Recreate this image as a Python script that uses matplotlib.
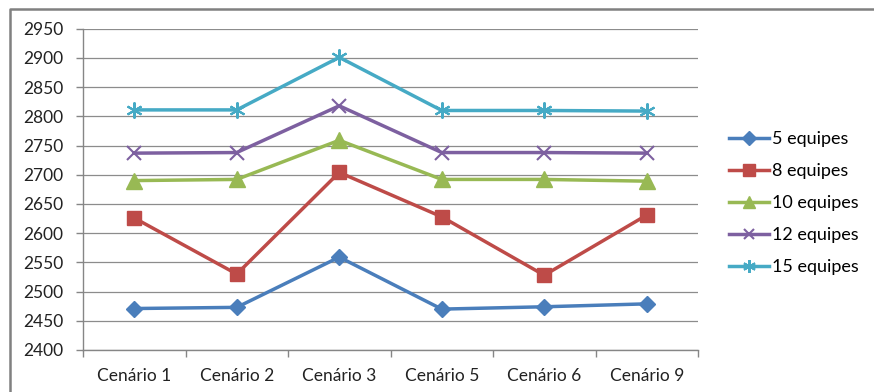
import matplotlib
matplotlib.use("Agg")
import matplotlib.pyplot as plt
from matplotlib.lines import Line2D
import numpy as np

categories = ["Cenário 1", "Cenário 2", "Cenário 3", "Cenário 5", "Cenário 6", "Cenário 9"]
series_names = ["5 equipes", "8 equipes", "10 equipes", "12 equipes", "15 equipes"]
equipes_5 = [2471, 2473, 2559, 2470, 2474, 2479]
equipes_8 = [2626, 2530, 2704, 2628, 2528, 2631]
equipes_10 = [2690, 2692, 2759, 2692, 2692, 2689]
equipes_12 = [2737, 2738, 2818, 2738, 2738, 2737]
equipes_15 = [2811, 2811, 2901, 2810, 2810, 2809]
y_ticks = [2400, 2450, 2500, 2550, 2600, 2650, 2700, 2750, 2800, 2850, 2900, 2950]

plt.rcParams['font.family'] = ['Lato', 'DejaVu Sans']

W, H = 874, 392
fig = plt.figure(figsize=(W / 100, H / 100), dpi=100)
ax = fig.add_axes([83 / W, 1 - 350 / H, (698 - 83) / W, (350 - 28.7) / H])

styles = [
    dict(color="#4a7ebb", marker="D", ms=8.5),
    dict(color="#be4b48", marker="s", ms=10.5),
    dict(color="#98b954", marker="^", ms=11),
    dict(color="#7d60a0", marker="x", ms=9.5, mew=1.5),
    dict(color="#46aac5", marker=(6, 2, 0), ms=11.5, mew=1.5),
]
data = [equipes_5, equipes_8, equipes_10, equipes_12, equipes_15]
x = np.arange(len(categories))
for name, vals, st in zip(series_names, data, styles):
    ax.plot(x, vals, lw=2.5, label=name, zorder=3, **st)

ax.set_xlim(-0.5, len(categories) - 0.5)
ax.set_ylim(2400, 2950)
ax.set_yticks(y_ticks)
ax.set_xticks(x)
ax.set_xticklabels(categories)
ax.set_xticks(np.arange(-0.5, len(categories)), minor=True)
ax.tick_params(axis="x", which="major", length=0, pad=13, labelsize=12.5, colors="#222222")
ax.tick_params(axis="x", which="minor", length=5, color="#868686", width=1)
ax.tick_params(axis="y", length=5, color="#868686", width=1, pad=9, labelsize=12.5, labelcolor="#222222")

ax.grid(axis="y", color="#8c8c8c", lw=0.9)
ax.set_axisbelow(True)
for side in ["top", "right"]:
    ax.spines[side].set_visible(False)
for side in ["left", "bottom"]:
    ax.spines[side].set_color("#868686")
    ax.spines[side].set_linewidth(1)

leg = ax.legend(loc="upper left", bbox_to_anchor=(729 / W, 1 - 131 / H), bbox_transform=fig.transFigure,
                frameon=False, fontsize=13, handlelength=2.2, handletextpad=0.2,
                labelspacing=0.89, borderpad=0, borderaxespad=0)
for h in leg.legend_handles:
    h.set_markersize(h.get_markersize() * 0.8)

# chart area frame
fig.add_artist(Line2D([9.5 / W, 9.5 / W, 1], [0, 1 - 8.5 / H, 1 - 8.5 / H],
                      transform=fig.transFigure, color="#808080", lw=1.8))

fig.savefig("out.png", dpi=100)
